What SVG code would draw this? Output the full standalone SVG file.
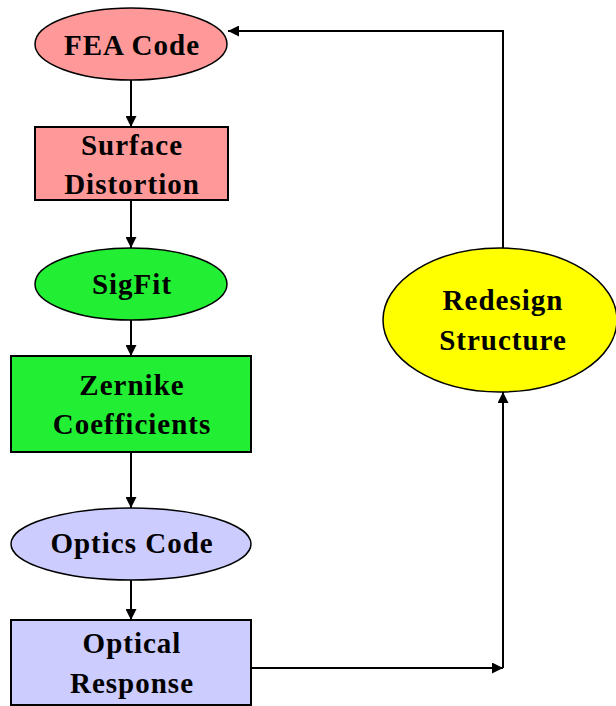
<svg xmlns="http://www.w3.org/2000/svg" width="616" height="706" viewBox="0 0 616 706">
<defs>
<style>
.n{stroke:#000;stroke-width:1.5}
.r{stroke:#000;stroke-width:2}
.t{font-family:"Liberation Serif","Times New Roman",serif;font-weight:bold;font-size:29px;letter-spacing:1px;text-anchor:middle;fill:#000}
.c{fill:none;stroke:#000;stroke-width:2}
.pink{fill:#FF9999}
.green{fill:#22EE33}
.blue{fill:#CCCCFF}
.yellow{fill:#FFFF00}
</style>
<marker id="ah" viewBox="0 0 10 10" refX="10" refY="5" markerWidth="11" markerHeight="11" markerUnits="userSpaceOnUse" orient="auto">
<path d="M0,0 L10,5 L0,10 z" fill="#000"/>
</marker>
</defs>
<rect width="616" height="706" fill="#fff"/>
<g id="connectors">
<line class="c" x1="131" y1="80" x2="131" y2="127" marker-end="url(#ah)"/>
<line class="c" x1="131" y1="200" x2="131" y2="248" marker-end="url(#ah)"/>
<line class="c" x1="131" y1="320" x2="131" y2="356" marker-end="url(#ah)"/>
<line class="c" x1="131" y1="452" x2="131" y2="508" marker-end="url(#ah)"/>
<line class="c" x1="131" y1="580" x2="131" y2="620" marker-end="url(#ah)"/>
<line class="c" x1="251" y1="668" x2="503" y2="668" marker-end="url(#ah)"/>
<line class="c" x1="503" y1="668" x2="503" y2="392" marker-end="url(#ah)"/>
<polyline class="c" points="503,248 503,31 228,31" marker-end="url(#ah)"/>
</g>
<g id="fea">
<ellipse class="n pink" cx="131" cy="44" rx="96" ry="36"/>
<text class="t" x="132" y="55">FEA Code</text>
</g>
<g id="surface">
<rect class="r pink" x="35" y="127" width="193" height="73"/>
<text class="t" x="132" y="155">Surface</text>
<text class="t" x="132" y="194">Distortion</text>
</g>
<g id="sigfit">
<ellipse class="n green" cx="131" cy="284" rx="96" ry="36"/>
<text class="t" x="132" y="294">SigFit</text>
</g>
<g id="zernike">
<rect class="r green" x="11" y="356" width="240" height="96"/>
<text class="t" x="132" y="395">Zernike</text>
<text class="t" x="132" y="434">Coefficients</text>
</g>
<g id="optics">
<ellipse class="n blue" cx="131" cy="544" rx="120" ry="36"/>
<text class="t" x="132" y="553">Optics Code</text>
</g>
<g id="response">
<rect class="r blue" x="11" y="620" width="240" height="85"/>
<text class="t" x="132" y="653">Optical</text>
<text class="t" x="132" y="693">Response</text>
</g>
<g id="redesign">
<ellipse class="n yellow" cx="500" cy="320" rx="117" ry="72"/>
<text class="t" x="503" y="310">Redesign</text>
<text class="t" x="503" y="350">Structure</text>
</g>
</svg>
